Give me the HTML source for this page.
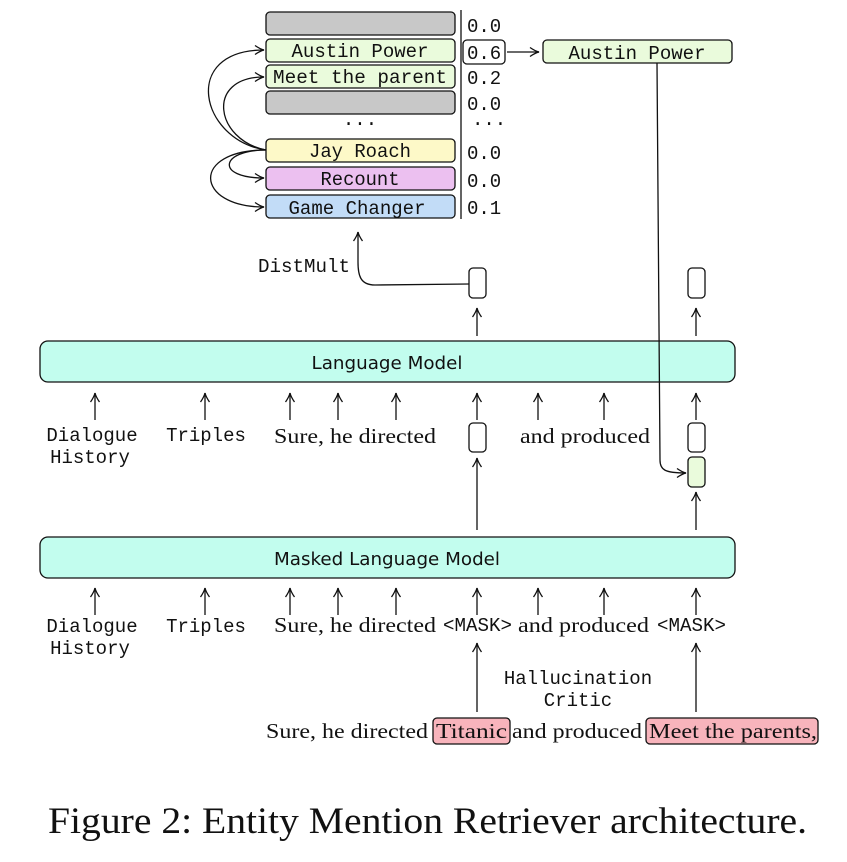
<!DOCTYPE html>
<html><head><meta charset="utf-8"><style>
html,body{margin:0;padding:0;background:#fff;}
svg{display:block}
.m{font-family:"Liberation Mono",monospace;font-size:19px;fill:#111}
.s{font-family:"Liberation Serif",serif;font-size:21px;fill:#111}
.ss{font-family:"DejaVu Sans",sans-serif;font-size:18px;fill:#111}
</style></head><body>
<svg width="847" height="862" viewBox="0 0 847 862" xmlns="http://www.w3.org/2000/svg">
<defs><marker id="a" markerWidth="12" markerHeight="12" refX="10" refY="6" orient="auto" markerUnits="userSpaceOnUse"><path d="M1,1.5 Q6,5 10,6 Q6,7 1,10.5" fill="none" stroke="#111" stroke-width="1.3"/></marker></defs>
<g fill="none" stroke="#111" stroke-width="1.3">
<rect x="266" y="12" width="189" height="23" rx="4" fill="#c8c8c8"/>
<rect x="266" y="39" width="189" height="23" rx="4" fill="#eafbdc"/>
<rect x="266" y="65" width="189" height="23" rx="4" fill="#eafbdc"/>
<rect x="266" y="91" width="189" height="23" rx="4" fill="#c8c8c8"/>
<rect x="266" y="139" width="189" height="23" rx="4" fill="#fdf9c8"/>
<rect x="266" y="167" width="189" height="23" rx="4" fill="#ecc0f0"/>
<rect x="266" y="195" width="189" height="23" rx="4" fill="#c2dcf7"/>
<line x1="461" y1="10" x2="461" y2="219"/>
<rect x="463" y="40" width="42" height="24" rx="4"/>
<line x1="507" y1="52" x2="539" y2="52" marker-end="url(#a)"/>
<rect x="543" y="40" width="189" height="23" rx="4" fill="#eafbdc"/>
<path d="M266,150 C200,140 180,50 264,50" marker-end="url(#a)"/>
<path d="M266,150 C215,140 205,77 264,77" marker-end="url(#a)"/>
<path d="M266,150 C220,150 215,178 264,178" marker-end="url(#a)"/>
<path d="M266,150 C190,150 195,207 264,207" marker-end="url(#a)"/>
<rect x="469" y="268" width="17" height="30" rx="4"/>
<rect x="688" y="268" width="17" height="30" rx="4"/>
<path d="M469,284 L375,285 C360,285 358,275 358,262 L358,232" marker-end="url(#a)"/>
<line x1="477" y1="336" x2="477" y2="308" marker-end="url(#a)"/>
<line x1="696" y1="336" x2="696" y2="308" marker-end="url(#a)"/>
<rect x="40" y="341" width="695" height="41" rx="8" fill="#c2fdee"/>
<g>
<line x1="95" y1="420" x2="95" y2="393" marker-end="url(#a)"/>
<line x1="205" y1="420" x2="205" y2="393" marker-end="url(#a)"/>
<line x1="290" y1="420" x2="290" y2="393" marker-end="url(#a)"/>
<line x1="338" y1="420" x2="338" y2="393" marker-end="url(#a)"/>
<line x1="396" y1="420" x2="396" y2="393" marker-end="url(#a)"/>
<line x1="477" y1="420" x2="477" y2="393" marker-end="url(#a)"/>
<line x1="538" y1="420" x2="538" y2="393" marker-end="url(#a)"/>
<line x1="604" y1="420" x2="604" y2="393" marker-end="url(#a)"/>
<line x1="696" y1="420" x2="696" y2="393" marker-end="url(#a)"/>
</g>
<rect x="469" y="423" width="17" height="29" rx="4"/>
<rect x="688" y="423" width="17" height="29" rx="4"/>
<rect x="688" y="457" width="17" height="30" rx="4" fill="#eafbdc"/>
<path d="M657,63 L660,460 C660,470 665,473 686,473" marker-end="url(#a)"/>
<line x1="477" y1="530" x2="477" y2="458" marker-end="url(#a)"/>
<line x1="696" y1="530" x2="696" y2="492" marker-end="url(#a)"/>
<rect x="40" y="537" width="695" height="41" rx="8" fill="#c2fdee"/>
<g>
<line x1="95" y1="615" x2="95" y2="588" marker-end="url(#a)"/>
<line x1="205" y1="615" x2="205" y2="588" marker-end="url(#a)"/>
<line x1="290" y1="615" x2="290" y2="588" marker-end="url(#a)"/>
<line x1="338" y1="615" x2="338" y2="588" marker-end="url(#a)"/>
<line x1="396" y1="615" x2="396" y2="588" marker-end="url(#a)"/>
<line x1="477" y1="615" x2="477" y2="588" marker-end="url(#a)"/>
<line x1="538" y1="615" x2="538" y2="588" marker-end="url(#a)"/>
<line x1="604" y1="615" x2="604" y2="588" marker-end="url(#a)"/>
<line x1="696" y1="615" x2="696" y2="588" marker-end="url(#a)"/>
</g>
<line x1="477" y1="712" x2="477" y2="643" marker-end="url(#a)"/>
<line x1="696" y1="712" x2="696" y2="643" marker-end="url(#a)"/>
<rect x="433" y="718" width="77" height="26" rx="4" fill="#f8b4bc"/>
<rect x="646" y="718" width="172" height="26" rx="4" fill="#f8b4bc"/>
</g>
<g class="m">
<text x="360" y="57" text-anchor="middle" textLength="137" lengthAdjust="spacingAndGlyphs">Austin Power</text>
<text x="360" y="83" text-anchor="middle" textLength="174" lengthAdjust="spacingAndGlyphs">Meet the parent</text>
<text x="360" y="129" text-anchor="middle">···</text>
<text x="360" y="157" text-anchor="middle" textLength="102" lengthAdjust="spacingAndGlyphs">Jay Roach</text>
<text x="360" y="185" text-anchor="middle" textLength="79" lengthAdjust="spacingAndGlyphs">Recount</text>
<text x="357" y="214" text-anchor="middle" textLength="137" lengthAdjust="spacingAndGlyphs">Game Changer</text>
<text x="467" y="32">0.0</text>
<text x="467" y="59">0.6</text>
<text x="467" y="84">0.2</text>
<text x="467" y="110">0.0</text>
<text x="472" y="129">···</text>
<text x="467" y="159">0.0</text>
<text x="467" y="187">0.0</text>
<text x="467" y="214">0.1</text>
<text x="637" y="59" text-anchor="middle" textLength="137" lengthAdjust="spacingAndGlyphs">Austin Power</text>
<text x="258" y="272" textLength="92" lengthAdjust="spacingAndGlyphs">DistMult</text>
<text x="92" y="441" text-anchor="middle">Dialogue</text>
<text x="90" y="463" text-anchor="middle">History</text>
<text x="206" y="441" text-anchor="middle">Triples</text>
<text x="92" y="632" text-anchor="middle">Dialogue</text>
<text x="90" y="654" text-anchor="middle">History</text>
<text x="206" y="632" text-anchor="middle">Triples</text>
<text x="443" y="631" textLength="69" lengthAdjust="spacingAndGlyphs">&lt;MASK&gt;</text>
<text x="657" y="631" textLength="69" lengthAdjust="spacingAndGlyphs">&lt;MASK&gt;</text>
<text x="578" y="684" text-anchor="middle">Hallucination</text>
<text x="578" y="706" text-anchor="middle">Critic</text>
</g>
<g class="s">
<text x="274" y="443" textLength="162" lengthAdjust="spacingAndGlyphs">Sure, he directed</text>
<text x="520" y="443" textLength="130" lengthAdjust="spacingAndGlyphs">and produced</text>
<text x="274" y="632" textLength="162" lengthAdjust="spacingAndGlyphs">Sure, he directed</text>
<text x="518" y="632" textLength="131" lengthAdjust="spacingAndGlyphs">and produced</text>
<text x="266" y="738" textLength="162" lengthAdjust="spacingAndGlyphs">Sure, he directed</text>
<text x="436" y="738" textLength="71" lengthAdjust="spacingAndGlyphs">Titanic</text>
<text x="512" y="738" textLength="130" lengthAdjust="spacingAndGlyphs">and produced</text>
<text x="649" y="738" textLength="168" lengthAdjust="spacingAndGlyphs">Meet the parents,</text>
</g>
<g class="ss">
<text x="387" y="369" text-anchor="middle" textLength="151" lengthAdjust="spacingAndGlyphs">Language Model</text>
<text x="387" y="565" text-anchor="middle" textLength="226" lengthAdjust="spacingAndGlyphs">Masked Language Model</text>
</g>
<text x="48" y="833" font-family="Liberation Serif,serif" font-size="37" fill="#111" textLength="759" lengthAdjust="spacingAndGlyphs">Figure 2: Entity Mention Retriever architecture.</text>
</svg>
</body></html>
